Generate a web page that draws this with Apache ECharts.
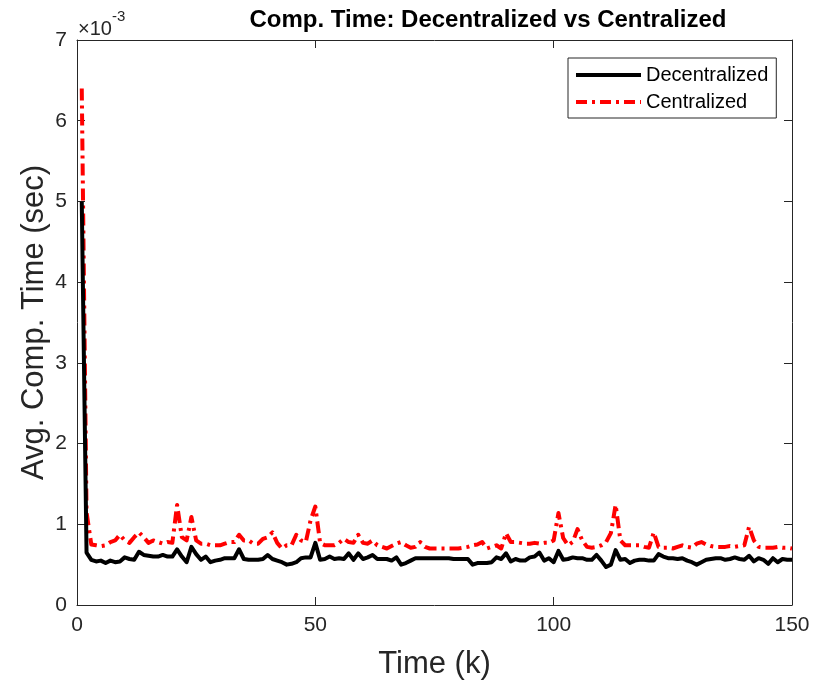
<!DOCTYPE html>
<html>
<head>
<meta charset="utf-8">
<script src="https://cdn.jsdelivr.net/npm/echarts@6/dist/echarts.min.js"></script>
<style>
  html, body { margin: 0; padding: 0; background: #fff; }
  #chart { width: 814px; height: 686px; }
</style>
</head>
<body>
<div id="chart"></div>
<script>
// values are in units of 1e-3 sec (axis shows x10^-3)
const decentralized = [
  5.00, 0.65, 0.56, 0.54, 0.55, 0.52, 0.55, 0.53, 0.54, 0.59,
  0.57, 0.56, 0.66, 0.62, 0.61, 0.60, 0.60, 0.62, 0.60, 0.60,
  0.69, 0.60, 0.53, 0.72, 0.63, 0.56, 0.60, 0.53, 0.55, 0.56,
  0.58, 0.58, 0.58, 0.69, 0.57, 0.56, 0.56, 0.56, 0.57, 0.62,
  0.57, 0.55, 0.53, 0.50, 0.51, 0.53, 0.58, 0.59, 0.59, 0.77,
  0.56, 0.57, 0.60, 0.57, 0.58, 0.57, 0.64, 0.56, 0.64, 0.57,
  0.59, 0.62, 0.57, 0.57, 0.57, 0.55, 0.59, 0.50, 0.52, 0.55,
  0.58, 0.58, 0.58, 0.58, 0.58, 0.58, 0.58, 0.58, 0.57, 0.57,
  0.57, 0.57, 0.50, 0.52, 0.52, 0.52, 0.53, 0.59, 0.57, 0.64,
  0.54, 0.57, 0.55, 0.55, 0.59, 0.60, 0.65, 0.55, 0.58, 0.53,
  0.67, 0.56, 0.57, 0.59, 0.58, 0.58, 0.56, 0.56, 0.62, 0.55,
  0.47, 0.50, 0.68, 0.56, 0.57, 0.52, 0.55, 0.56, 0.56, 0.55,
  0.55, 0.63, 0.60, 0.58, 0.58, 0.57, 0.58, 0.55, 0.53, 0.50,
  0.53, 0.56, 0.57, 0.58, 0.58, 0.56, 0.57, 0.59, 0.57, 0.56,
  0.61, 0.54, 0.58, 0.56, 0.51, 0.58, 0.53, 0.57, 0.56, 0.56
];
const centralized = [
  6.40, 1.15, 0.75, 0.74, 0.73, 0.74, 0.78, 0.80, 0.87, 0.80,
  0.77, 0.84, 0.90, 0.84, 0.77, 0.80, 0.78, 0.76, 0.78, 0.77,
  1.24, 0.84, 0.80, 1.09, 0.80, 0.76, 0.76, 0.74, 0.74, 0.74,
  0.76, 0.78, 0.78, 0.87, 0.80, 0.80, 0.76, 0.76, 0.82, 0.84,
  0.90, 0.77, 0.70, 0.74, 0.74, 0.87, 0.80, 0.78, 1.05, 1.22,
  0.77, 0.74, 0.74, 0.74, 0.77, 0.82, 0.78, 0.77, 0.87, 0.77,
  0.76, 0.80, 0.74, 0.72, 0.70, 0.73, 0.76, 0.78, 0.74, 0.71,
  0.72, 0.78, 0.72, 0.70, 0.70, 0.70, 0.70, 0.70, 0.70, 0.70,
  0.71, 0.72, 0.74, 0.75, 0.78, 0.70, 0.72, 0.74, 0.70, 0.89,
  0.78, 0.78, 0.77, 0.76, 0.76, 0.77, 0.76, 0.77, 0.77, 0.80,
  1.14, 0.83, 0.74, 0.78, 0.94, 0.80, 0.72, 0.71, 0.72, 0.74,
  0.78, 0.89, 1.24, 0.80, 0.74, 0.74, 0.74, 0.74, 0.72, 0.71,
  0.90, 0.72, 0.71, 0.71, 0.70, 0.72, 0.74, 0.72, 0.71, 0.76,
  0.78, 0.75, 0.73, 0.72, 0.72, 0.72, 0.73, 0.72, 0.73, 0.74,
  0.97, 0.80, 0.72, 0.71, 0.71, 0.71, 0.72, 0.71, 0.71, 0.70
];
const seriesNames = ['Decentralized', 'Centralized'];

const font = 'Liberation Sans, Arial, Helvetica, sans-serif';
const axisColor = '#262626';

// legend glyphs: solid bar and dash-dot bar
const solidIcon = 'path://M0,0H65V4H0Z';
const dashDotIcon = 'path://M0,0H11V4H0Z M16,0H19V4H16Z M24,0H35V4H24Z M40,0H43V4H40Z M48,0H59V4H48Z M64,0H65V4H64Z';

const pairs = arr => arr.map((v, i) => [i + 1, v]);

const boxAxis = {
  axisLine: { show: true, onZero: false, lineStyle: { color: axisColor, width: 1 } },
  axisTick: { show: true, inside: true, length: 8, lineStyle: { color: axisColor } },
  splitLine: { show: false }
};

const chart = echarts.init(document.getElementById('chart'), null, { renderer: 'canvas' });

const option = {
  backgroundColor: '#fff',
  animation: false,
  title: {
    text: 'Comp. Time: Decentralized vs Centralized',
    left: 483,
    top: 3,
    textAlign: 'center',
    textStyle: { fontFamily: font, fontSize: 24, fontWeight: 'bold', color: '#000' }
  },
  graphic: [{
    type: 'text',
    left: 78,
    top: 9,
    style: {
      text: '{a|×10}{b|-3}',
      rich: {
        a: { fontFamily: font, fontSize: 20, fill: axisColor, verticalAlign: 'bottom', lineHeight: 30 },
        b: { fontFamily: font, fontSize: 15, fill: axisColor, verticalAlign: 'top', lineHeight: 30 }
      }
    }
  }],
  legend: {
    orient: 'vertical',
    left: 568,
    top: 58,
    padding: [7, 8, 6, 8],
    itemWidth: 65,
    itemHeight: 4,
    itemGap: 7,
    backgroundColor: '#fff',
    borderColor: axisColor,
    borderWidth: 1,
    borderRadius: 0,
    data: [
      { name: seriesNames[0], icon: solidIcon },
      { name: seriesNames[1], icon: dashDotIcon }
    ],
    textStyle: { fontFamily: font, fontSize: 20, color: '#000', lineHeight: 20 }
  },
  grid: { left: 77, right: 22, top: 40, bottom: 81, containLabel: false },
  xAxis: [Object.assign({
    type: 'value',
    min: 0, max: 150, interval: 50,
    name: 'Time (k)',
    nameLocation: 'middle',
    nameGap: 44,
    nameMoveOverlap: false,
    nameTextStyle: { fontFamily: font, fontSize: 31, color: axisColor },
    axisLabel: { fontFamily: font, fontSize: 21, color: axisColor, margin: 10 }
  }, boxAxis), Object.assign({
    type: 'value',
    position: 'top',
    min: 0, max: 150, interval: 50,
    axisLabel: { show: false }
  }, boxAxis)],
  yAxis: [Object.assign({
    type: 'value',
    min: 0, max: 7, interval: 1,
    name: 'Avg. Comp. Time (sec)',
    nameLocation: 'middle',
    nameGap: 27,
    nameMoveOverlap: false,
    nameTextStyle: { fontFamily: font, fontSize: 31, color: axisColor },
    axisLabel: { fontFamily: font, fontSize: 21, color: axisColor, margin: 10 }
  }, boxAxis), Object.assign({
    type: 'value',
    position: 'right',
    min: 0, max: 7, interval: 1,
    axisLabel: { show: false }
  }, boxAxis)],
  series: [{
    name: seriesNames[0],
    type: 'line',
    xAxisIndex: 0,
    yAxisIndex: 0,
    data: pairs(decentralized),
    symbol: 'none',
    lineStyle: { color: '#000', width: 4, join: 'round' },
    itemStyle: { color: '#000' },
    z: 3
  }, {
    name: seriesNames[1],
    type: 'line',
    xAxisIndex: 0,
    yAxisIndex: 0,
    data: pairs(centralized),
    symbol: 'none',
    lineStyle: { color: '#ff0000', width: 4, type: [12, 5, 3, 5], join: 'round' },
    itemStyle: { color: '#ff0000' },
    z: 2
  }]
};

chart.setOption(option);
</script>
</body>
</html>
